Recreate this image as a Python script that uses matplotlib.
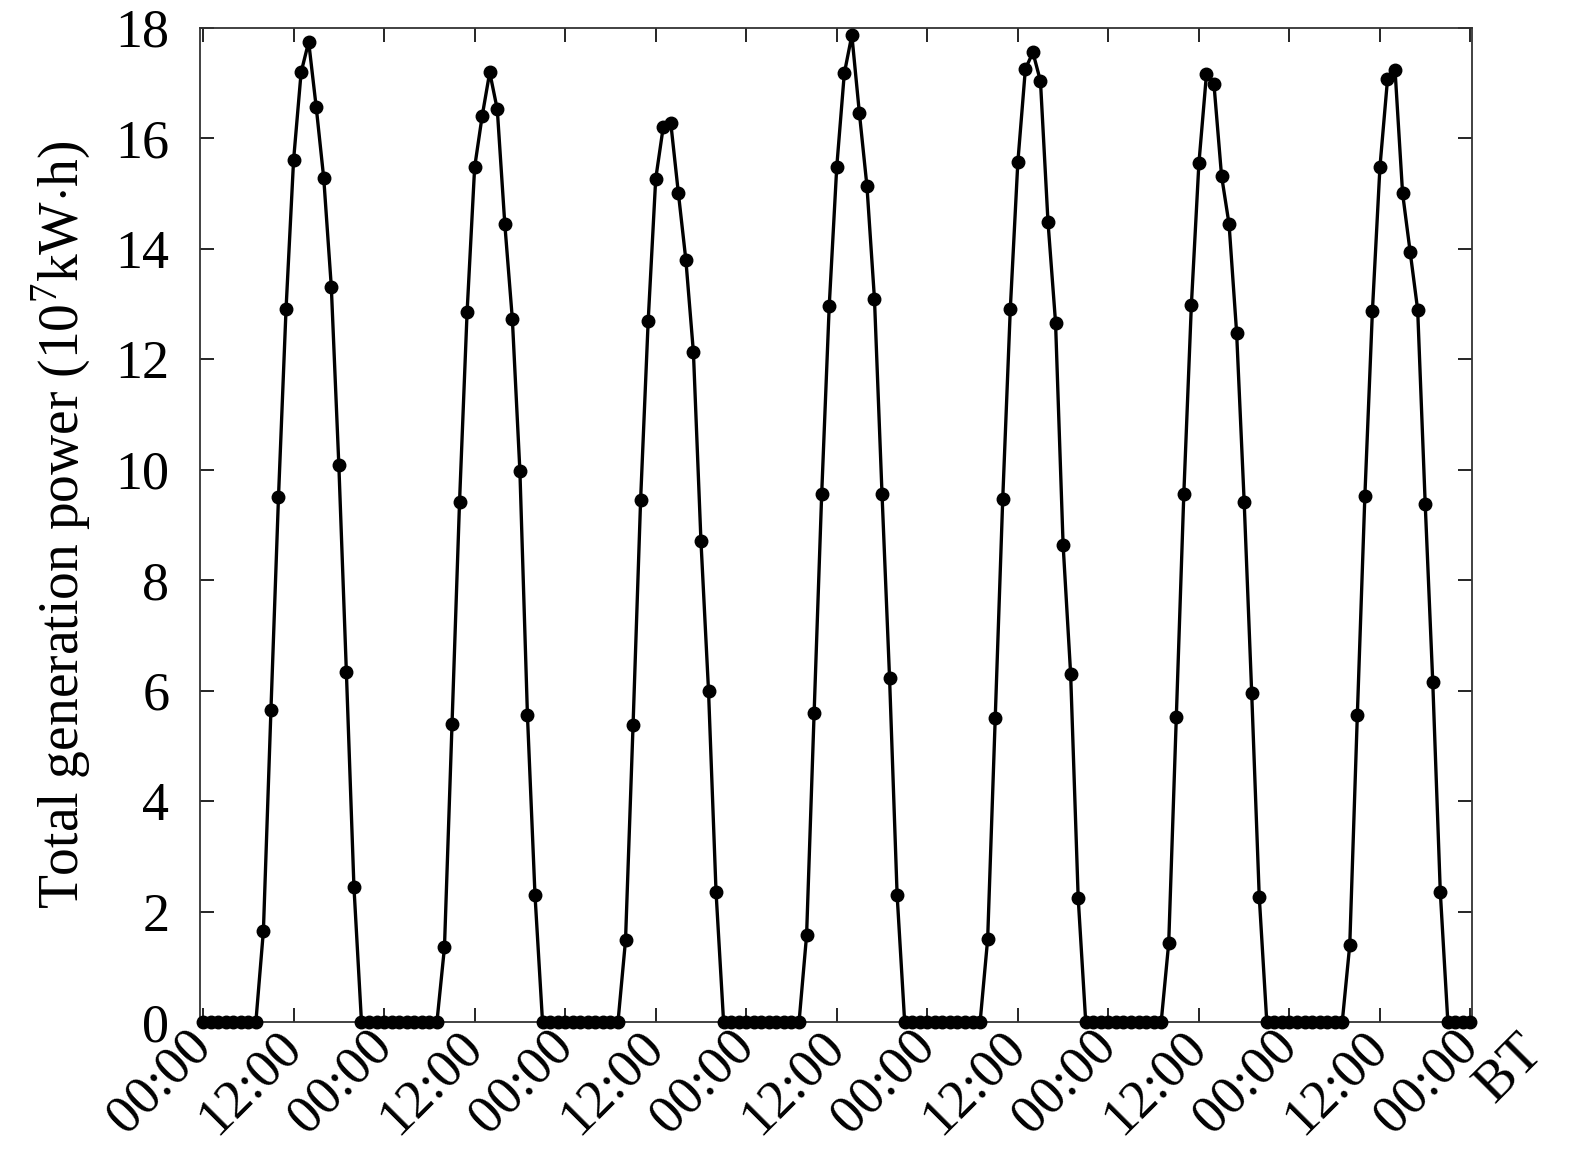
import numpy as np
import matplotlib.pyplot as plt

plt.rcParams['font.family'] = ['Liberation Serif', 'DejaVu Serif']
plt.rcParams['mathtext.fontset'] = 'custom'
plt.rcParams['mathtext.rm'] = 'Liberation Serif'

# daytime generation (hours 08..20) for each of the 7 days, 10^7 kW*h
day1 = [1.65, 5.65, 9.50, 12.90, 15.60, 17.19, 17.74, 16.56, 15.27, 13.31, 10.08, 6.33, 2.45]
day2 = [1.35, 5.40, 9.42, 12.85, 15.47, 16.40, 17.19, 16.52, 14.44, 12.72, 9.97, 5.55, 2.30]
day3 = [1.48, 5.38, 9.45, 12.68, 15.26, 16.20, 16.27, 15.01, 13.79, 12.12, 8.70, 6.00, 2.35]
day4 = [1.57, 5.60, 9.55, 12.96, 15.48, 17.17, 17.86, 16.45, 15.13, 13.08, 9.55, 6.22, 2.30]
day5 = [1.50, 5.50, 9.47, 12.90, 15.56, 17.25, 17.55, 17.03, 14.48, 12.66, 8.64, 6.30, 2.25]
day6 = [1.43, 5.52, 9.55, 12.97, 15.54, 17.15, 16.97, 15.32, 14.44, 12.48, 9.42, 5.95, 2.27]
day7 = [1.40, 5.55, 9.52, 12.87, 15.48, 17.06, 17.23, 15.00, 13.94, 12.89, 9.37, 6.15, 2.35]
days = [day1, day2, day3, day4, day5, day6, day7]

night_before = [0.0] * 8   # 00:00 - 07:00
night_after = [0.0] * 3    # 21:00 - 23:00
final_point = [0.0]        # closing 00:00

power = []
for d in days:
    power += night_before + d + night_after
power += final_point
hours = np.arange(len(power))

tick_labels = ['00:00', '12:00'] * 7 + ['00:00']

fig = plt.figure(figsize=(15.75, 11.52), dpi=100)
ax = fig.add_axes([0.127, 0.1128, 0.8076, 0.8633])

ax.plot(hours, power, color='black', lw=2.4, marker='o', ms=9, clip_on=False, zorder=3)

ax.set_xlim(-0.4, 168.2)
ax.set_ylim(0, 18)
ax.set_xticks(np.arange(0, 169, 12))
ax.set_xticklabels(tick_labels, rotation=45, ha='right', va='center',
                   rotation_mode='anchor')
ax.set_yticks(np.arange(0, 19, 2))
ax.tick_params(direction='in', length=10, width=1.2, top=True, right=True,
               labelsize=39)
ax.tick_params(axis='y', pad=22)
ax.tick_params(axis='x', pad=12)
for s in ax.spines.values():
    s.set_linewidth(1.3)
    s.set_color('#333333')

ax.set_ylabel('Total generation power (10$^7$kW$\\cdot$h)', fontsize=40, labelpad=16)
ax.text(1.018, -0.082, 'BT', transform=ax.transAxes, rotation=45, fontsize=40,
        ha='left', va='baseline', rotation_mode='anchor')

fig.savefig('out.png', dpi=100)
